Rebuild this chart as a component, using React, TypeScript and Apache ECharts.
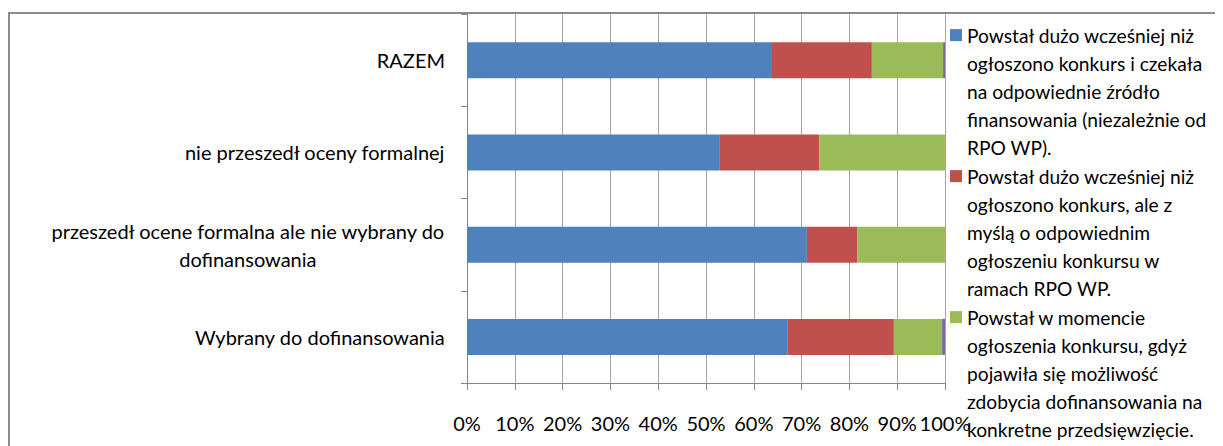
import React, { useEffect, useRef } from "react";
import * as echarts from "echarts";

const categories = [
  "Wybrany do dofinansowania",
  "przeszedł ocene formalna ale nie wybrany do dofinansowania",
  "nie przeszedł oceny formalnej",
  "RAZEM",
];

const seriesNames = [
  "Powstał dużo wcześniej niż ogłoszono konkurs i czekała na odpowiednie źródło finansowania (niezależnie od RPO WP).",
  "Powstał dużo wcześniej niż ogłoszono konkurs, ale z myślą o odpowiednim ogłoszeniu konkursu w ramach RPO WP.",
  "Powstał w momencie ogłoszenia konkursu, gdyż pojawiła się możliwość zdobycia dofinansowania na konkretne przedsięwzięcie.",
  "Inne",
];

const legendLines = [
  ["Powstał dużo wcześniej niż", "ogłoszono konkurs i czekała", "na odpowiednie źródło", "finansowania (niezależnie od", "RPO WP)."],
  ["Powstał dużo wcześniej niż", "ogłoszono konkurs, ale z", "myślą o odpowiednim", "ogłoszeniu konkursu w", "ramach RPO WP."],
  ["Powstał w momencie", "ogłoszenia konkursu, gdyż", "pojawiła się możliwość", "zdobycia dofinansowania na", "konkretne przedsięwzięcie."],
];

const blueValues = [67.0, 71.1, 52.9, 63.8];
const redValues = [22.3, 10.6, 20.8, 20.9];
const greenValues = [10.1, 18.3, 26.3, 14.9];
const purpleValues = [0.6, 0, 0, 0.4];

const colors = ["#4F81BD", "#C0504D", "#9BBB59", "#8064A2"];

const xTicks = { min: 0, max: 100, interval: 10 };

const FONT = "Lato";
const FS = 20;
const LEGEND_FS = 19.2;

function wrapLabel(text: string): string {
  const words = text.split(" ");
  const lines: string[] = [];
  let cur = "";
  for (const w of words) {
    const next = cur ? cur + " " + w : w;
    if (next.length > 44 && cur) {
      lines.push(cur);
      cur = w;
    } else cur = next;
  }
  if (cur) lines.push(cur);
  return lines.map((l) => "{a|" + l + "}").join("\n");
}

export default function App() {
  const ref = useRef<HTMLDivElement>(null);
  useEffect(() => {
    if (!ref.current) return;
    const chart = echarts.init(ref.current, undefined, { renderer: "svg" });
    const values = [blueValues, redValues, greenValues, purpleValues];

    const lineH = 28.2;
    const legendGraphics: any[] = [];
    let lineCount = 0;
    legendLines.forEach((lines, i) => {
      const top = 13 + lineCount * lineH;
      legendGraphics.push({
        type: "rect",
        shape: { x: 942, y: top + lineH / 2 - 6, width: 12, height: 12 },
        style: { fill: colors[i] },
      });
      legendGraphics.push({
        type: "text",
        x: 959,
        y: top,
        style: {
          text: lines.join("\n"),
          font: `${LEGEND_FS}px ${FONT}`,
          fill: "#000",
          lineHeight: lineH,
          textVerticalAlign: "top",
        },
      });
      lineCount += lines.length;
    });

    chart.setOption({
      animation: false,
      backgroundColor: "#fff",
      textStyle: { fontFamily: FONT },
      grid: { left: 459, top: 6, width: 478, height: 369 },
      xAxis: {
        type: "value",
        min: xTicks.min,
        max: xTicks.max,
        interval: xTicks.interval,
        axisLine: { show: true, lineStyle: { color: "#868686", width: 1 } },
        axisTick: { show: true, length: 7, lineStyle: { color: "#868686" } },
        splitLine: { show: true, lineStyle: { color: "#a6a6a6", width: 1 } },
        axisLabel: {
          formatter: "{value}%",
          color: "#000",
          fontSize: FS,
          fontFamily: FONT,
          margin: 30,
        },
      },
      yAxis: {
        type: "category",
        data: categories,
        axisLine: { show: true, lineStyle: { color: "#868686", width: 1 } },
        axisTick: { show: true, length: 6, lineStyle: { color: "#868686" } },
        axisLabel: {
          color: "#000",
          fontSize: FS,
          fontFamily: FONT,
          margin: 22,
          lineHeight: 28,
          formatter: (v: string) => wrapLabel(v),
          rich: { a: { align: "center", fontSize: FS, fontFamily: FONT, color: "#000", lineHeight: 28 } },
        },
      },
      series: values.map((vals, i) => ({
        name: seriesNames[i],
        type: "bar",
        stack: "total",
        data: vals,
        barWidth: 36,
        itemStyle: { color: colors[i] },
      })),
      graphic: [
        {
          type: "rect",
          shape: { x: 1, y: 5, width: 1300, height: 500 },
          style: { fill: "none", stroke: "#8c8c8c", lineWidth: 2 },
          silent: true,
        },
        ...legendGraphics,
      ],
    });
    return () => chart.dispose();
  }, []);
  return <div ref={ref} style={{ width: 1215, height: 438 }} />;
}
